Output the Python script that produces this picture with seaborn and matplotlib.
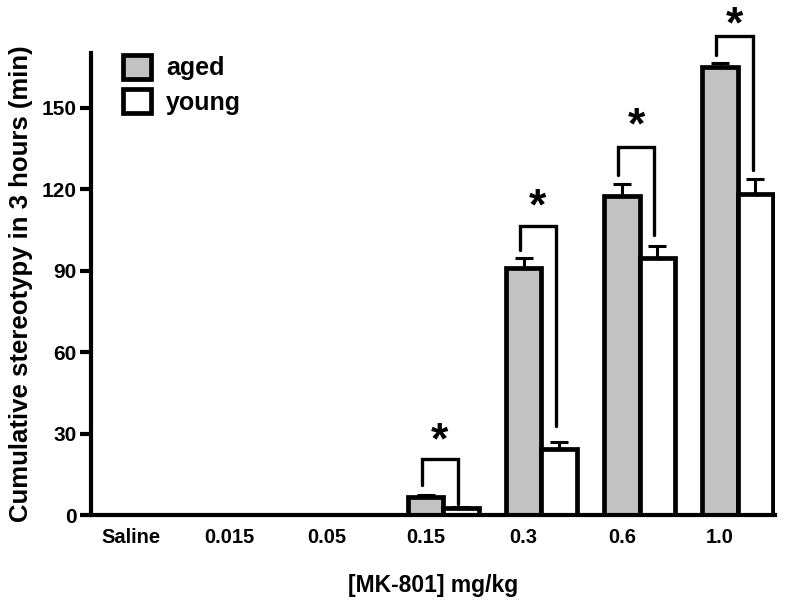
import numpy as np
import pandas as pd
import seaborn as sns
import matplotlib
matplotlib.use("Agg")
import matplotlib.pyplot as plt
from matplotlib.patches import Patch

# values
doses = ["Saline", "0.015", "0.05", "0.15", "0.3", "0.6", "1.0"]
aged = [0, 0, 0, 6.8, 91.0, 117.6, 164.9]
aged_err = [0, 0, 0, 0.8, 3.5, 4.3, 1.6]
young = [0, 0, 0, 2.5, 24.3, 94.6, 118.3]
young_err = [0, 0, 0, 0.4, 2.7, 4.3, 5.5]

# significance brackets (dose index, top, left leg end, right leg end, star y)
sig_idx = [3, 4, 5, 6]
sig_top = [20.5, 106.5, 135.3, 176.3]
sig_left = [11.0, 97.7, 125.3, 169.5]
sig_right = [4.0, 33.0, 103.0, 127.0]
sig_star = [27.0, 113.0, 143.0, 180.0]

df = pd.DataFrame({
    "dose": doses * 2,
    "value": aged + young,
    "group": ["aged"] * len(doses) + ["young"] * len(doses),
})

sns.set_style("ticks", {"axes.edgecolor": "black", "xtick.color": "black",
                        "ytick.color": "black", "text.color": "black",
                        "axes.labelcolor": "black"})
plt.rcParams["font.family"] = ["Liberation Sans", "DejaVu Sans"]
plt.rcParams["font.weight"] = "bold"

fig = plt.figure(figsize=(7.95, 6.04), dpi=100)
ax = fig.add_axes([0.114, 0.147, 0.861, 0.765])

pal = {"aged": "#c2c2c2", "young": "white"}
sns.barplot(data=df, x="dose", y="value", hue="group", order=doses,
            palette=pal, width=0.72, errorbar=None, edgecolor="black",
            linewidth=3.4, legend=False, ax=ax)

# hide the outlines of empty (zero) bars
for p in ax.patches:
    if p.get_height() == 0:
        p.set_linewidth(0)

# error bars (upper only)
for cont, err in zip(ax.containers[:2], [aged_err, young_err]):
    xs = np.array([p.get_x() + p.get_width() / 2 for p in cont])
    hs = np.array([p.get_height() for p in cont])
    e = np.array(err)
    m = e > 0
    ax.errorbar(xs[m], hs[m], yerr=[np.zeros(m.sum()), e[m]], fmt="none",
                ecolor="black", elinewidth=2.2, capsize=6.5, capthick=2.2,
                zorder=1)

aged_x = [p.get_x() + p.get_width() / 2 for p in ax.containers[0]]
young_x = [p.get_x() + p.get_width() / 2 for p in ax.containers[1]]

for i, top, yl, yr, ys in zip(sig_idx, sig_top, sig_left, sig_right, sig_star):
    xl, xr = aged_x[i] - 0.04, young_x[i] - 0.03
    ax.plot([xl, xl, xr, xr], [yl, top, top, yr], color="black", lw=2.4,
            solid_joinstyle="miter", clip_on=False)
    ax.text((xl + xr) / 2, ys, "*", ha="center", va="center", fontsize=32,
            fontweight="bold", clip_on=False)

ax.set_xlim(-0.59, 6.38)
ax.set_ylim(0, 170)
ax.set_yticks([0, 30, 60, 90, 120, 150])
ax.set_xticks(np.array(aged_x))
ax.set_xticklabels(doses)
ax.tick_params(axis="x", length=0, pad=9, labelsize=14.5)
ax.tick_params(axis="y", length=8, width=3, labelsize=15, pad=2)
for lab in ax.get_xticklabels() + ax.get_yticklabels():
    lab.set_fontweight("bold")

sns.despine(ax=ax)
ax.spines["left"].set_linewidth(3)
ax.spines["bottom"].set_linewidth(3)

ax.set_xlabel("[MK-801] mg/kg", fontsize=16.5, fontweight="bold", labelpad=20)
ax.set_ylabel("Cumulative stereotypy in 3 hours (min)", fontsize=18.5,
              fontweight="bold", labelpad=6)

handles = [Patch(facecolor=pal["aged"], edgecolor="black", linewidth=3.4),
           Patch(facecolor=pal["young"], edgecolor="black", linewidth=3.4)]
ax.legend(handles, ["aged", "young"], loc="upper left",
          bbox_to_anchor=(0.015, 1.045), frameon=False,
          handlelength=1.1, handleheight=1.1, handletextpad=0.6,
          labelspacing=0.35, prop={"weight": "bold", "size": 18})

fig.savefig("out.png", dpi=100)
